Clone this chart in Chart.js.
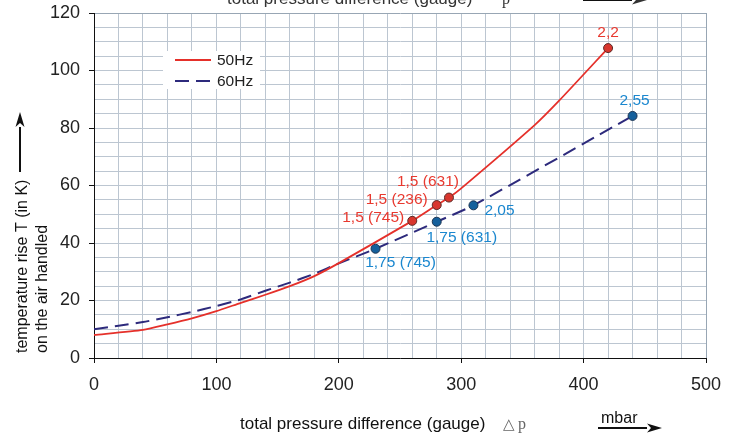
<!DOCTYPE html>
<html>
<head>
<meta charset="utf-8">
<script src="https://cdn.jsdelivr.net/npm/chart.js@4/dist/chart.umd.min.js"></script>
<style>
  html, body { margin: 0; padding: 0; background: #fff; }
  #wrap { width: 734px; height: 434px; position: relative; }
</style>
</head>
<body>
<div id="wrap"><canvas id="c"></canvas></div>
<script>
// 50Hz curve
const pressure50 = [0, 40, 60, 80, 100, 120, 140, 160, 180, 200, 260, 280, 290, 300, 360, 380, 420];
const temp50 = [8, 9.8, 11.7, 13.8, 16.3, 19.2, 22, 25, 28.5, 33, 47.7, 53.2, 55.8, 59, 81, 89.5, 107.8];
const labels50 = ['', '', '', '', '', '', '', '', '', '', '1,5 (745)', '1,5 (236)', '1,5 (631)', '', '', '', '2,2'];

// 60Hz curve
const pressure60 = [0, 20, 40, 60, 80, 100, 120, 140, 160, 180, 200, 230, 280, 310, 440];
const temp60 = [10, 11.2, 12.5, 14.2, 16, 18.1, 20.4, 23.4, 26.2, 29.3, 32.9, 38, 47.4, 53.1, 84.2];
const labels60 = ['', '', '', '', '', '', '', '', '', '', '', '1,75 (745)', '1,75 (631)', '2,05', '2,55'];

const seriesNames = ['50Hz', '60Hz'];
const xTitle = 'total pressure difference (gauge)';
const yTitle = ['temperature rise T (in K)', 'on the air handled'];
const unitText = 'mbar';

// label placement (dx, dy, align) per labelled point
const offsets50 = { 10: [-8, -3, 'right'], 11: [-9, -5, 'right'], 12: [-21, -16, 'center'], 16: [0, -15, 'center'] };
const offsets60 = { 11: [25, 14, 'center'], 12: [25, 16, 'center'], 13: [11, 5, 'left'], 14: [2, -15, 'center'] };

const FONT = '"Liberation Sans", Arial, sans-serif';
const RED = '#e5302a';
const NAVY = '#2d2a7c';

const pts = (xs, ys) => xs.map((x, i) => ({ x, y: ys[i] }));

// draws point labels
const pointLabels = {
  id: 'pointLabels',
  afterDatasetsDraw(chart) {
    const ctx = chart.ctx;
    const sets = [[labels50, offsets50, '#e8392f'], [labels60, offsets60, '#1a87cf']];
    ctx.save();
    ctx.font = '15.5px ' + FONT;
    ctx.textBaseline = 'middle';
    sets.forEach(([labs, offs, col], di) => {
      const meta = chart.getDatasetMeta(di);
      labs.forEach((t, i) => {
        if (!t) return;
        const p = meta.data[i];
        const o = offs[i] || [0, -14, 'center'];
        ctx.fillStyle = col;
        ctx.textAlign = o[2];
        ctx.fillText(t, p.x + o[0], p.y + o[1]);
      });
    });
    ctx.restore();
  }
};

function arrow(ctx, x1, y1, x2, y2) {
  const ang = Math.atan2(y2 - y1, x2 - x1);
  const hl = 15, hw = 4.5;
  const bx = x2 - hl * Math.cos(ang), by = y2 - hl * Math.sin(ang);
  ctx.beginPath();
  ctx.moveTo(x1, y1);
  ctx.lineTo(bx, by);
  ctx.lineWidth = 2;
  ctx.stroke();
  ctx.beginPath();
  ctx.moveTo(x2, y2);
  ctx.lineTo(bx - hw * Math.sin(ang), by + hw * Math.cos(ang));
  ctx.lineTo(bx + 4 * Math.cos(ang), by + 4 * Math.sin(ang));
  ctx.lineTo(bx + hw * Math.sin(ang), by - hw * Math.cos(ang));
  ctx.closePath();
  ctx.fill();
}

// legend box, axis titles, arrows
const decor = {
  id: 'decor',
  afterDraw(chart) {
    const ctx = chart.ctx;
    const ds = chart.data.datasets;
    ctx.save();
    // legend
    ctx.fillStyle = '#fff';
    ctx.fillRect(163, 51, 97, 38);
    ctx.font = '15.5px ' + FONT;
    ctx.textBaseline = 'middle';
    ctx.textAlign = 'left';
    [60, 81].forEach((y, i) => {
      ctx.strokeStyle = ds[i].borderColor;
      ctx.lineWidth = 2;
      ctx.setLineDash(ds[i].borderDash || []);
      ctx.beginPath();
      ctx.moveTo(175, y);
      ctx.lineTo(211, y);
      ctx.stroke();
      ctx.setLineDash([]);
      ctx.fillStyle = '#222';
      ctx.fillText(ds[i].label, 217, y + 1);
    });

    ctx.fillStyle = '#111';
    ctx.strokeStyle = '#111';
    // x title (bottom)
    ctx.font = '17px ' + FONT;
    ctx.textBaseline = 'alphabetic';
    ctx.fillText(xTitle, 240, 429);
    ctx.font = '15px "DejaVu Serif", serif';
    ctx.fillStyle = '#666';
    ctx.fillText('\u25B3', 503, 429);
    ctx.font = '16px "Liberation Serif", serif';
    ctx.fillText('p', 518, 429);
    ctx.fillStyle = '#111';
    ctx.font = '16px ' + FONT;
    ctx.fillText(unitText, 601, 423);
    arrow(ctx, 598, 428, 662, 428);

    // clipped copy at the top edge
    ctx.font = '17px ' + FONT;
    ctx.fillStyle = '#333';
    ctx.fillText(xTitle, 227, 4);
    ctx.font = '16px "Liberation Serif", serif';
    ctx.fillText('p', 502, 4);
    arrow(ctx, 583, 0, 647, 0);

    // y title
    ctx.fillStyle = '#111';
    ctx.save();
    ctx.font = '16px ' + FONT;
    ctx.textBaseline = 'middle';
    ctx.textAlign = 'left';
    ctx.translate(23, 353);
    ctx.rotate(-Math.PI / 2);
    ctx.fillText(yTitle[0], 0, 0);
    ctx.fillText(yTitle[1], 0, 20);
    ctx.restore();
    arrow(ctx, 20, 172, 20, 112);
    ctx.restore();
  }
};

new Chart(document.getElementById('c'), {
  type: 'line',
  data: {
    datasets: [
      {
        label: seriesNames[0],
        data: pts(pressure50, temp50),
        borderColor: RED,
        borderWidth: 1.8,
        tension: 0.2,
        pointRadius: c => labels50[c.dataIndex] ? 4.5 : 0,
        pointBackgroundColor: '#d8362e',
        pointBorderColor: '#5c2a26',
        pointBorderWidth: 1,
        fill: false
      },
      {
        label: seriesNames[1],
        data: pts(pressure60, temp60),
        borderColor: NAVY,
        borderWidth: 2,
        borderDash: [14, 7],
        tension: 0.2,
        pointRadius: c => labels60[c.dataIndex] ? 4.5 : 0,
        pointBackgroundColor: '#15609c',
        pointBorderColor: '#1b3452',
        pointBorderWidth: 1,
        fill: false
      }
    ]
  },
  options: {
    responsive: true,
    maintainAspectRatio: false,
    animation: false,
    layout: { padding: { left: 0, top: 13, right: 28, bottom: 0 } },
    plugins: { legend: { display: false }, tooltip: { enabled: false } },
    scales: {
      x: {
        type: 'linear',
        min: 0, max: 500,
        afterFit: s => { s.height = 76; },
        grid: {
          color: c => c.tick && c.tick.value === 500 ? '#98a6b4' : '#bcc6d1',
          tickLength: 5,
          tickColor: c => c.tick && c.tick.value % 100 === 0 ? '#111' : 'rgba(0,0,0,0)'
        },
        border: { color: '#111', width: 1 },
        ticks: {
          stepSize: 20,
          autoSkip: false,
          maxRotation: 0,
          padding: 11,
          color: '#222',
          font: { family: FONT, size: 18 },
          callback: v => v % 100 === 0 ? v : ''
        }
      },
      y: {
        min: 0, max: 120,
        afterFit: s => { s.width = 94; s.paddingTop = 0; s.paddingBottom = 0; },
        grid: {
          color: c => c.tick && c.tick.value === 120 ? '#98a6b4' : '#bcc6d1',
          tickLength: 5,
          tickColor: c => c.tick && c.tick.value % 20 === 0 ? '#111' : 'rgba(0,0,0,0)'
        },
        border: { color: '#111', width: 1 },
        ticks: {
          stepSize: 5,
          autoSkip: false,
          padding: 9,
          color: '#222',
          font: { family: FONT, size: 18 },
          callback: v => v % 20 === 0 ? v : ''
        }
      }
    }
  },
  plugins: [pointLabels, decor]
});
</script>
</body>
</html>
